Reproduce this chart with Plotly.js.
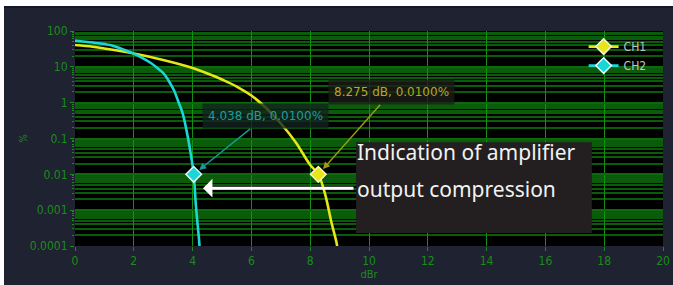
<!DOCTYPE html>
<html>
<head>
<meta charset="utf-8">
<script src="https://cdn.plot.ly/plotly-3.0.1.min.js"></script>
<style>
  html, body { margin:0; padding:0; background:#ffffff; width:673px; height:285px; overflow:hidden; }
  #wrap { position:absolute; left:4px; top:6px; width:669px; height:279px; background:#1f2230; border-top:2px solid #14162a; box-sizing:border-box; }
  #chart { width:669px; height:277px; }
</style>
</head>
<body>
<div id="wrap"><div id="chart"></div></div>
<script>
// ---- data ----
const ch1X = [0, 0.6, 1.0, 2.0, 3.0, 4.0, 4.6, 5.0, 5.5, 6.0, 6.5, 7.0, 7.5, 8.0, 8.275, 8.50, 8.73, 8.90, 8.98];
const ch1Y = [40.6, 36.5, 32.5, 23.5, 15.5, 9.27, 6.11, 4.43, 2.82, 1.58, 0.71, 0.262, 0.0798, 0.0182, 0.01, 0.00295, 0.00043, 0.000119, 0.00004];
const ch2X = [0, 0.6, 1.2, 1.55, 1.97, 2.3, 2.58, 2.78, 3.03, 3.2, 3.37, 3.52, 3.66, 3.835, 3.97, 4.038, 4.115, 4.229, 4.26];
const ch2Y = [53.6, 47.8, 40.6, 32.5, 23.9, 17.6, 12.8, 9.57, 6.31, 3.90, 2.18, 1.04, 0.514, 0.112, 0.0251, 0.01, 0.00125, 0.000119, 0.00004];
const seriesNames = ['CH1', 'CH2'];
const cursorX = [8.275, 4.038];
const cursorY = [0.01, 0.01];
const cursorLabels = ['8.275 dB, 0.0100%', '4.038 dB, 0.0100%'];
const yTickVals = [0.0001, 0.001, 0.01, 0.1, 1, 10, 100];
const yTickText = ['0.0001', '0.001', '0.01', '0.1', '1', '10', '100'];
const calloutLines = ['Indication of amplifier', 'output compression'];

const yellow = '#e6e619';
const cyan = '#1ad6d6';
const green = '#1b8c1b';
const tickFont = { family: 'DejaVu Sans Condensed, DejaVu Sans', size: 12, color: green };

const traces = [
  { x: ch1X, y: ch1Y, mode: 'lines', line: { color: yellow, width: 2.6, shape: 'spline', smoothing: 1.0 }, showlegend: false, hoverinfo: 'skip' },
  { x: ch2X, y: ch2Y, mode: 'lines', line: { color: cyan, width: 2.6, shape: 'spline', smoothing: 1.0 }, showlegend: false, hoverinfo: 'skip' },
  { x: [cursorX[0]], y: [cursorY[0]], mode: 'markers', marker: { symbol: 'diamond', size: 12, color: yellow, line: { color: '#f4f4d0', width: 1.5 } }, showlegend: false },
  { x: [cursorX[1]], y: [cursorY[1]], mode: 'markers', marker: { symbol: 'diamond', size: 12, color: cyan, line: { color: '#e0f8f8', width: 1.5 } }, showlegend: false },
  { x: [null], y: [null], name: seriesNames[0], mode: 'lines+markers', line: { color: yellow, width: 2.6 }, marker: { symbol: 'diamond', size: 12, color: yellow, line: { color: '#f4f4d0', width: 1.5 } } },
  { x: [null], y: [null], name: seriesNames[1], mode: 'lines+markers', line: { color: cyan, width: 2.6 }, marker: { symbol: 'diamond', size: 12, color: cyan, line: { color: '#e0f8f8', width: 1.5 } } }
];

const layout = {
  width: 669, height: 277,
  margin: { l: 71, r: 10, t: 23, b: 39, pad: 0 },
  paper_bgcolor: '#1f2230',
  plot_bgcolor: '#000000',
  showlegend: true,
  legend: {
    x: 0.865, y: 0.995, xanchor: 'left', yanchor: 'top',
    bgcolor: 'rgba(0,0,0,0)', borderwidth: 0,
    font: { family: 'DejaVu Sans Condensed, DejaVu Sans', size: 12, color: '#c4c4c4' },
    tracegroupgap: 0, itemwidth: 30
  },
  xaxis: {
    range: [0, 20], dtick: 2, tick0: 0,
    showgrid: true, gridcolor: '#119011', gridwidth: 1,
    zeroline: false, showline: false,
    ticks: 'outside', ticklen: 4, tickcolor: green,
    tickfont: tickFont,
    title: { text: 'dBr', font: { family: 'DejaVu Sans Condensed, DejaVu Sans', size: 11, color: green }, standoff: 0 }
  },
  yaxis: {
    type: 'log', range: [-4, 2],
    tickmode: 'array', tickvals: yTickVals, ticktext: yTickText,
    showgrid: true, gridcolor: '#0c6a0c', gridwidth: 2,
    zeroline: false, showline: false,
    ticks: 'outside', ticklen: 4, tickcolor: green,
    tickfont: tickFont,
    minor: { dtick: 'D1', showgrid: true, gridcolor: '#0a5c0a', gridwidth: 2, ticks: 'outside', ticklen: 2, tickcolor: green },
    title: { text: '%', font: { family: 'DejaVu Sans Condensed, DejaVu Sans', size: 10, color: green }, standoff: 0 }
  },
  shapes: [
    { type: 'rect', xref: 'paper', yref: 'paper', x0: 0.478, x1: 0.879, y0: 0.060, y1: 0.483, fillcolor: '#231f20', line: { width: 0 }, layer: 'above' }
  ],
  annotations: [
    { x: cursorX[0], y: Math.log10(cursorY[0]), xref: 'x', yref: 'y', text: cursorLabels[0], showarrow: true,
      ax: 73, ay: -82, arrowhead: 2, arrowsize: 1, arrowwidth: 1.4, arrowcolor: '#a09a10', standoff: 7,
      font: { family: 'DejaVu Sans', size: 12, color: '#b3aa1c' }, bgcolor: 'rgba(28,30,24,0.78)', borderpad: 5 },
    { x: cursorX[1], y: Math.log10(cursorY[1]), xref: 'x', yref: 'y', text: cursorLabels[1], showarrow: true,
      ax: 72, ay: -58, arrowhead: 2, arrowsize: 1, arrowwidth: 1.4, arrowcolor: '#159a9a', standoff: 7,
      font: { family: 'DejaVu Sans', size: 12, color: '#1e9d9d' }, bgcolor: 'rgba(18,34,32,0.78)', borderpad: 5 },
    { x: 0.2177, y: 0.269, xref: 'paper', yref: 'paper', text: '', showarrow: true,
      ax: 152, ay: 0, arrowhead: 1, arrowsize: 1.05, arrowwidth: 3, arrowcolor: '#ffffff' },
    { x: 0.476, y: 0.437, xref: 'paper', yref: 'paper', xanchor: 'left', yanchor: 'middle', text: calloutLines[0], showarrow: false,
      font: { family: 'Noto Sans', size: 21, color: '#f2f2f2' } },
    { x: 0.476, y: 0.266, xref: 'paper', yref: 'paper', xanchor: 'left', yanchor: 'middle', text: calloutLines[1], showarrow: false,
      font: { family: 'Noto Sans', size: 21, color: '#f2f2f2' } }
  ]
};

Plotly.newPlot('chart', traces, layout, { staticPlot: true, displayModeBar: false });
</script>
</body>
</html>
